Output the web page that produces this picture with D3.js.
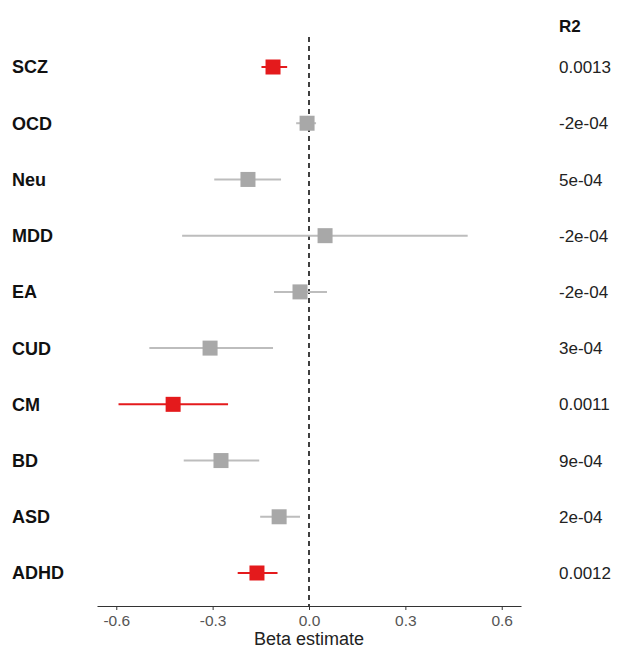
<!DOCTYPE html>
<html>
<head>
<meta charset="utf-8">
<script src="https://d3js.org/d3.v7.min.js"></script>
<style>
  body { margin: 0; background: #fff; }
  svg text { font-family: "Liberation Sans", Arial, sans-serif; }
</style>
</head>
<body>
<div id="chart"></div>
<script>
const traits = ["SCZ", "OCD", "Neu", "MDD", "EA", "CUD", "CM", "BD", "ASD", "ADHD"];
const beta   = [-0.112, -0.006, -0.19, 0.05, -0.028, -0.308, -0.423, -0.274, -0.093, -0.162];
const lower  = [-0.148, -0.04, -0.295, -0.395, -0.109, -0.497, -0.593, -0.39, -0.152, -0.222];
const upper  = [-0.068, 0.022, -0.087, 0.494, 0.056, -0.112, -0.252, -0.155, -0.028, -0.098];
const signif = [true, false, false, false, false, false, true, false, false, true];
const r2     = ["0.0013", "-2e-04", "5e-04", "-2e-04", "-2e-04", "3e-04", "0.0011", "9e-04", "2e-04", "0.0012"];
const xTicks = [-0.6, -0.3, 0, 0.3, 0.6];

const W = 622, H = 649;
const svg = d3.select("#chart").append("svg")
    .attr("width", W).attr("height", H);

const x = d3.scaleLinear().domain([-0.66, 0.66]).range([97, 521]);
const y = d3.scalePoint().domain(traits).range([67, 573]);
const axisY = 606;

const rows = traits.map((t, i) => ({
    trait: t, beta: beta[i], lo: lower[i], hi: upper[i], sig: signif[i], r2: r2[i]
}));

// reference line at zero
svg.append("line")
    .attr("x1", x(0)).attr("x2", x(0))
    .attr("y1", 37).attr("y2", axisY)
    .attr("stroke", "#111")
    .attr("stroke-width", 1.6)
    .attr("stroke-dasharray", "5,4");

// CI lines
svg.selectAll("line.ci")
    .data(rows)
    .enter().append("line")
    .attr("class", "ci")
    .attr("x1", d => x(d.lo)).attr("x2", d => x(d.hi))
    .attr("y1", d => y(d.trait)).attr("y2", d => y(d.trait))
    .attr("stroke", d => d.sig ? "#e41a1c" : "#bdbdbd")
    .attr("stroke-width", 2);

// point estimates
const sq = 15;
svg.selectAll("rect.pt")
    .data(rows)
    .enter().append("rect")
    .attr("class", "pt")
    .attr("x", d => x(d.beta) - sq / 2)
    .attr("y", d => y(d.trait) - sq / 2)
    .attr("width", sq).attr("height", sq)
    .attr("fill", d => d.sig ? "#e41a1c" : "#a8a8a8");

// trait labels
svg.selectAll("text.lab")
    .data(rows)
    .enter().append("text")
    .attr("class", "lab")
    .attr("x", 12)
    .attr("y", d => y(d.trait))
    .attr("dy", "0.36em")
    .attr("font-size", 18)
    .attr("font-weight", "bold")
    .attr("fill", "#111")
    .text(d => d.trait);

// R2 column
svg.append("text")
    .attr("x", 559).attr("y", 26)
    .attr("dy", "0.36em")
    .attr("font-size", 17)
    .attr("font-weight", "bold")
    .attr("fill", "#111")
    .text("R2");

svg.selectAll("text.r2")
    .data(rows)
    .enter().append("text")
    .attr("class", "r2")
    .attr("x", 559)
    .attr("y", d => y(d.trait))
    .attr("dy", "0.36em")
    .attr("font-size", 17)
    .attr("fill", "#222")
    .text(d => d.r2);

// x axis
const ax = svg.append("g")
    .attr("transform", `translate(0,${axisY})`)
    .call(d3.axisBottom(x).tickValues(xTicks).tickFormat(d3.format(".1f")).tickSize(4).tickSizeOuter(0));
ax.select(".domain").attr("stroke", "#333").attr("stroke-width", 1.2);
ax.selectAll(".tick line").attr("stroke", "#333");
ax.selectAll(".tick text")
    .attr("font-size", 15.5)
    .attr("fill", "#555")
    .attr("y", 14)
    .attr("dy", "0.36em")
    .style("font-family", "Liberation Sans, Arial, sans-serif")
    .text(d => d3.format(".1f")(d).replace("−", "-"));

svg.append("text")
    .attr("x", x(0)).attr("y", 639)
    .attr("dy", "0.36em")
    .attr("text-anchor", "middle")
    .attr("font-size", 18)
    .attr("fill", "#222")
    .text("Beta estimate");
</script>
</body>
</html>
